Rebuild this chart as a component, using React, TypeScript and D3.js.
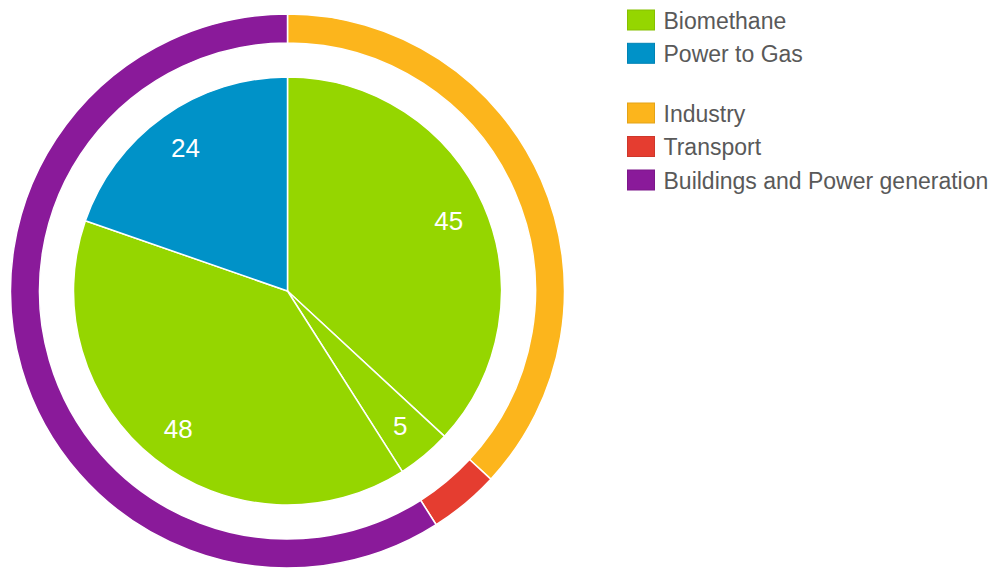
import React from "react";
import * as d3 from "d3";

const innerCategories = ["Biomethane A", "Biomethane B", "Biomethane C", "Power to Gas"];
const innerValues = [45, 5, 48, 24];
const innerKinds = ["Biomethane", "Biomethane", "Biomethane", "Power to Gas"];

const outerCategories = ["Industry", "Transport", "Buildings and Power generation"];
const outerValues = [45, 5, 72];

const legendGroup1 = ["Biomethane", "Power to Gas"];
const legendGroup2 = ["Industry", "Transport", "Buildings and Power generation"];

const colors: Record<string, string> = {
  "Biomethane": "#95d600",
  "Power to Gas": "#0092c8",
  "Industry": "#fcb51c",
  "Transport": "#e53d30",
  "Buildings and Power generation": "#8a1a9a",
};
const borderColors: Record<string, string> = {
  "Biomethane": "#86c000",
  "Power to Gas": "#0083b4",
  "Industry": "#e3a318",
  "Transport": "#ce372b",
  "Buildings and Power generation": "#7c178a",
};

export default function App() {
  const W = 989, H = 568;
  const cx = 287.5, cy = 291;
  const pie = d3.pie<number>().sort(null).value((d) => d);
  const innerArcs = pie(innerValues);
  const outerArcs = pie(outerValues);
  const innerArc = d3.arc<d3.PieArcDatum<number>>().innerRadius(0).outerRadius(214);
  const outerArc = d3.arc<d3.PieArcDatum<number>>().innerRadius(248).outerRadius(277);
  const labelArc = d3.arc<d3.PieArcDatum<number>>().innerRadius(176).outerRadius(176);

  const legendItems: { name: string; y: number }[] = [
    ...legendGroup1.map((n, i) => ({ name: n, y: 20 + i * 33.3 })),
    ...legendGroup2.map((n, i) => ({ name: n, y: 113 + i * 33.5 })),
  ];

  return (
    <svg width={W} height={H} style={{ position: "absolute", left: 0, top: 0 }}
      fontFamily="'Liberation Sans', Arial, sans-serif">
      <g transform={`translate(${cx},${cy})`}>
        {innerArcs.map((a, i) => (
          <path key={innerCategories[i]} d={innerArc(a) || ""} fill={colors[innerKinds[i]]}
            stroke="#fff" strokeWidth={1.5} strokeLinejoin="round" />
        ))}
        {outerArcs.map((a, i) => (
          <path key={outerCategories[i]} d={outerArc(a) || ""} fill={colors[outerCategories[i]]}
            stroke="#fff" strokeWidth={1.5} strokeLinejoin="round" />
        ))}
        {innerArcs.map((a, i) => {
          const [x, y] = labelArc.centroid(a);
          return (
            <text key={"l" + i} x={x} y={y} dy="0.35em" textAnchor="middle" fill="#fff" fontSize={26}>
              {innerValues[i]}
            </text>
          );
        })}
      </g>
      {legendItems.map((it) => (
        <g key={it.name} transform={`translate(627.5,${it.y})`}>
          <rect x={0} y={-10} width={27} height={20} fill={colors[it.name]} stroke={borderColors[it.name]} strokeWidth={1} />
          <text x={36} y={0.8} dy="0.35em" fill="#595959" fontSize={23}>{it.name}</text>
        </g>
      ))}
    </svg>
  );
}
